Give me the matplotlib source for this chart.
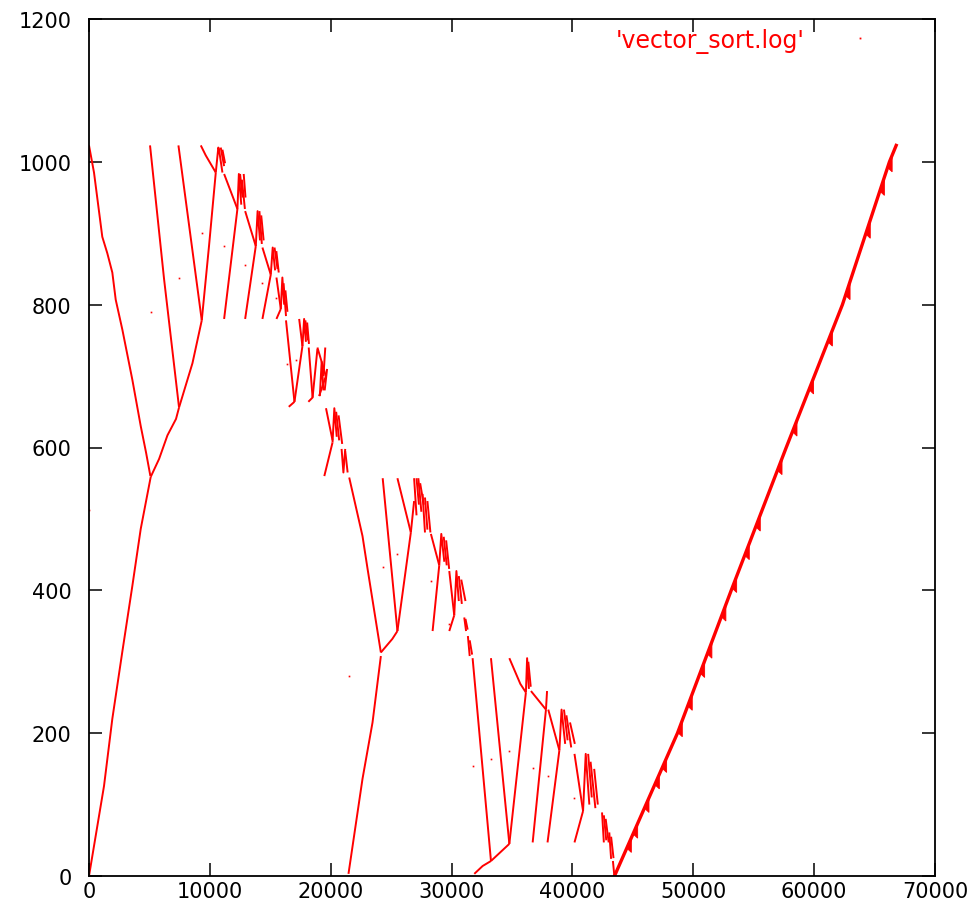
import matplotlib
matplotlib.use("Agg")
import matplotlib.pyplot as plt
import numpy as np
from matplotlib.lines import Line2D

# ---------------- data ----------------
x_ticks = [0, 10000, 20000, 30000, 40000, 50000, 60000, 70000]
y_ticks = [0, 200, 400, 600, 800, 1000, 1200]
series_label = "'vector_sort.log'"

# partition traces: pointer moving down from the upper bound
descending_lines = [
    [(0, 1023), (414, 985), (1100, 895), (1515, 872), (1930, 845), (2210, 807),
     (2760, 765), (3585, 695), (4280, 630), (4720, 593), (5080, 560)],
    [(5050, 1023), (6210, 836), (7450, 656)],
    [(7400, 1023), (9330, 778)],
    [(9250, 1023), (9660, 1009), (10490, 985)],
    [(11180, 983), (12280, 934)],
    [(12920, 931), (13800, 882)],
    [(14350, 880), (15040, 842)],
    [(15510, 838), (15870, 794)],
    [(16300, 778), (17000, 664)],
    [(17390, 780), (17660, 742)],
    [(18180, 740), (18500, 670)],
    [(18900, 740), (19600, 700)],
    [(19610, 655), (20150, 610)],
    [(21530, 558), (22630, 476), (23050, 430), (24150, 313)],
    [(24300, 557), (25520, 343)],
    [(25520, 557), (26630, 481)],
    [(28290, 479), (28980, 435)],
    [(29810, 427), (30220, 365)],
    [(31740, 305), (33260, 21)],
    [(33260, 305), (34780, 45)],
    [(34780, 305), (35690, 269), (36150, 257)],
    [(36570, 259), (37810, 233)],
    [(38000, 233), (38920, 176)],
    [(40170, 171), (40880, 91)],
]

# partition traces: pointer moving up from the lower bound
ascending_lines = [
    [(0, 0), (1242, 126), (1929, 220), (2757, 314), (3585, 406), (4280, 486), (5109, 559)],
    [(5110, 559), (5800, 584), (6490, 617), (7200, 640), (7450, 656)],
    [(7450, 656), (8560, 718), (9330, 778)],
    [(9330, 778), (9935, 883), (10490, 985)],
    [(11180, 780), (12280, 934)],
    [(12920, 780), (13800, 882)],
    [(14350, 780), (15040, 842)],
    [(15510, 780), (15870, 794)],
    [(16530, 657), (17000, 664)],
    [(17000, 664), (17660, 742)],
    [(18150, 664), (18500, 670), (18900, 738)],
    [(19040, 672), (19600, 700)],
    [(19470, 560), (20150, 607)],
    [(21470, 3), (22630, 136), (23460, 215), (24150, 308)],
    [(24150, 313), (25100, 332), (25520, 343)],
    [(25520, 343), (26630, 481)],
    [(28430, 343), (28980, 435)],
    [(29810, 343), (30220, 365)],
    [(31880, 3), (32570, 14), (33260, 21)],
    [(33260, 21), (34780, 45)],
    [(34780, 45), (36150, 257)],
    [(36710, 47), (37810, 233)],
    [(37940, 47), (38920, 176)],
    [(40170, 47), (40880, 91)],
]

# small sub-ranges finished by insertion sort (dense scribbles)
leaf_clusters = [
    [(10490, 985), (10700, 1020), (10760, 1017), (11040, 985)],
    [(10900, 1020), (11180, 994)], [(11040, 1017), (11260, 998)],
    [(12280, 934), (12400, 983), (12600, 940)], [(12500, 983), (12700, 950)],
    [(12650, 975), (12900, 934)], [(12800, 983), (12950, 950)],
    [(13800, 882), (13950, 931), (14150, 890)], [(14100, 931), (14300, 885)],
    [(14250, 925), (14450, 890)],
    [(15040, 842), (15200, 880), (15400, 848)], [(15350, 880), (15600, 850)],
    [(15500, 875), (15700, 845)],
    [(15870, 794), (16000, 838), (16150, 800)], [(16100, 830), (16300, 784)],
    [(16250, 820), (16420, 790)],
    [(17660, 742), (17800, 780), (17950, 748)], [(17900, 778), (18100, 750)],
    [(18050, 775), (18200, 745)],
    [(19100, 672), (19250, 720), (19400, 680)], [(19400, 700), (19550, 740)],
    [(19500, 680), (19700, 710)],
    [(20150, 607), (20300, 655), (20500, 615)], [(20450, 650), (20700, 610)],
    [(20650, 645), (20950, 605)],
    [(20900, 598), (21050, 565), (21200, 598)], [(21200, 595), (21400, 565)],
    [(26630, 481), (26900, 525)], [(26900, 557), (27100, 505)],
    [(27100, 557), (27300, 520)], [(27250, 557), (27500, 510)],
    [(27400, 550), (27700, 520)],
    [(27600, 535), (27800, 481)], [(27800, 530), (28000, 485)],
    [(28000, 525), (28250, 481)],
    [(28980, 435), (29150, 479), (29400, 440)], [(29350, 475), (29600, 435)],
    [(29550, 470), (29800, 430)],
    [(30220, 365), (30400, 427), (30600, 385)], [(30600, 420), (30850, 381)],
    [(30800, 415), (31150, 385)],
    [(31050, 362), (31200, 343)], [(31150, 360), (31330, 345)],
    [(31350, 336), (31500, 308)], [(31500, 330), (31700, 310)],
    [(36150, 257), (36250, 305), (36400, 262)], [(36350, 300), (36550, 265)],
    [(37810, 233), (37900, 259)],
    [(38920, 176), (39100, 233), (39400, 185)], [(39300, 233), (39600, 190)],
    [(39500, 225), (39900, 180)], [(39800, 215), (40200, 185)],
    [(40880, 91), (41100, 171), (41400, 100)], [(41300, 171), (41600, 110)],
    [(41500, 160), (41900, 95)], [(41800, 150), (42100, 100)],
    [(42450, 89), (42600, 47)], [(42600, 85), (42800, 50)], [(42750, 80), (43000, 47)],
    [(43050, 61), (43200, 24)], [(43200, 55), (43400, 25)],
    [(43350, 21), (43470, 0)],
]

# final insertion-sort sweep
final_pass_x = [43480, 48690, 53140, 57690, 62340, 66230, 66790]
final_pass_y = [0, 200, 400, 600, 800, 1000, 1023]
final_pass_teeth = [39, 59, 95, 128, 151, 201, 238, 284, 311, 363, 403, 449, 489,
                    568, 622, 681, 748, 813, 899, 959, 992]

# isolated single samples
stray_x = [0, 5110, 7450, 9330, 11180, 12920, 14350, 15510, 16420, 17110, 21530,
           24300, 25520, 28330, 29810, 31740, 33260, 34780, 36710, 37940, 40170]
stray_y = [513, 790, 838, 900, 882, 855, 831, 810, 717, 722, 280,
           433, 451, 413, 353, 154, 164, 175, 151, 140, 109]

# ---------------- drawing ----------------
RED = "#ff0000"
plt.rcParams["font.family"] = ["DejaVu Sans"]

fig = plt.figure(figsize=(9.76, 9.03), dpi=100)
ax = fig.add_axes([89 / 976, 26 / 903, 846 / 976, 857 / 903])

for pl in descending_lines + ascending_lines + leaf_clusters:
    xs, ys = zip(*pl)
    ax.plot(xs, ys, color=RED, lw=1.4, solid_capstyle="butt")

ax.plot(final_pass_x, final_pass_y, color=RED, lw=2.4)
for ty in final_pass_teeth:
    x0 = np.interp(ty, final_pass_y, final_pass_x)
    ax.fill([x0, x0 + 380, x0 + 380], [ty, ty + 16, ty - 6], color=RED, lw=0.6, ec=RED)

ax.plot(stray_x, stray_y, ls="none", marker="s", ms=1.2, color=RED, mew=0)

ax.set_xlim(0, 70000)
ax.set_ylim(0, 1200)
ax.set_xticks(x_ticks)
ax.set_yticks(y_ticks)
ax.tick_params(direction="in", length=9.5, width=1.1, top=True, right=True,
               labelsize=15, colors="black")
ax.tick_params(axis="y", pad=12.5)
ax.tick_params(axis="x", pad=3.5)
for s in ax.spines.values():
    s.set_linewidth(1.3)

handle = Line2D([], [], ls="none", marker="s", ms=1.3, color=RED, mew=0)
leg = ax.legend([handle], [series_label], loc="upper right", frameon=False,
                markerfirst=False, handlelength=2.0, handletextpad=1.33,
                borderaxespad=0, borderpad=0, fontsize=17,
                bbox_to_anchor=(0.939, 0.990))
for t in leg.get_texts():
    t.set_color(RED)

fig.savefig("out.png", dpi=100)
